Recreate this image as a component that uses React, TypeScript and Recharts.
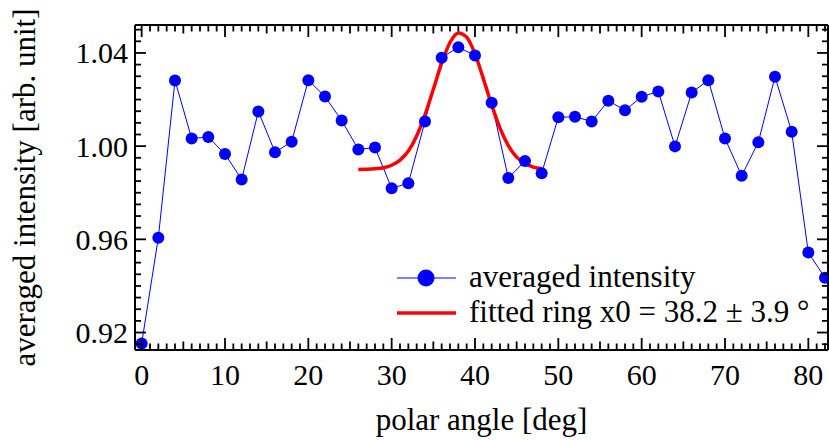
// polar-angle intensity profile with a fitted ring
import { Legend, Line, LineChart, XAxis, YAxis } from "recharts";

// measured points, every 2 deg
const angles = [
  0, 2, 4, 6, 8, 10, 12, 14, 16, 18, 20, 22, 24, 26, 28, 30, 32, 34, 36, 38, 40,
  42, 44, 46, 48, 50, 52, 54, 56, 58, 60, 62, 64, 66, 68, 70, 72, 74, 76, 78, 80, 82,
];
const intensity = [
  0.9153, 0.9607, 1.0282, 1.0033, 1.0039, 0.9966, 0.9857, 1.0149, 0.9974, 1.0019,
  1.0283, 1.0213, 1.011, 0.9986, 0.9994, 0.9819, 0.9841, 1.0106, 1.0379, 1.0425,
  1.0389, 1.0186, 0.9863, 0.9936, 0.9884, 1.0124, 1.0126, 1.0106, 1.0195, 1.0154,
  1.0212, 1.0235, 0.9999, 1.023, 1.0283, 1.0033, 0.9873, 1.0017, 1.0298, 1.0062,
  0.9543, 0.9435,
];

// fitted ring curve
const fitAngles = [
  26, 27, 28, 29, 30, 31, 32, 33, 34, 35, 36, 37, 38, 39, 40, 41, 42, 43, 44, 45, 46, 47, 48,
];
const fitValues = [
  0.99, 0.9901, 0.9903, 0.9907, 0.9918, 0.994, 0.9979, 1.0044, 1.0134, 1.0244, 1.0356,
  1.0445, 1.0486, 1.0468, 1.0396, 1.029, 1.0177, 1.0077, 1.0002, 0.9953, 0.9925, 0.991, 0.9904,
];

const measured = angles.map((angle, i) => ({ angle, value: intensity[i] }));
const fitted = fitAngles.map((angle, i) => ({ angle, value: fitValues[i] }));

const xTicks = Array.from({ length: 83 }, (_, i) => i);
const yTicks = Array.from({ length: 28 }, (_, i) => +(0.915 + i * 0.005).toFixed(3));
const xDomain = [-0.8, 82.36];
const yDomain = [0.9125, 1.052];

const FONT = "Liberation Serif";
const TICK_W = 1.8;

const xLen = (v: number) => (v % 10 === 0 ? 12 : v % 5 === 0 ? 8.5 : 6.5);
const yMajor = (v: number) => Math.round(v * 1000) % 40 === 0;

const BottomTick = ({ x, y, payload }: any) => {
  const v = payload.value;
  return (
    <g>
      <line x1={x} x2={x} y1={y} y2={y - xLen(v)} stroke="#000" strokeWidth={TICK_W} />
      {v % 10 === 0 && (
        <text x={x} y={y + 35} textAnchor="middle" fontSize={30} fontFamily={FONT} fill="#000">
          {v}
        </text>
      )}
    </g>
  );
};

const TopTick = ({ x, y, payload }: any) => (
  <line x1={x} x2={x} y1={y} y2={y + xLen(payload.value)} stroke="#000" strokeWidth={TICK_W} />
);

const LeftTick = ({ x, y, payload }: any) => {
  const v = payload.value;
  const major = yMajor(v);
  return (
    <g>
      <line x1={x} x2={x + (major ? 11 : 6)} y1={y} y2={y} stroke="#000" strokeWidth={TICK_W} />
      {major && (
        <text x={x - 7} y={y + 10.5} textAnchor="end" fontSize={30} fontFamily={FONT} fill="#000">
          {v.toFixed(2)}
        </text>
      )}
    </g>
  );
};

const RightTick = ({ x, y, payload }: any) => (
  <line
    x1={x}
    x2={x - (yMajor(payload.value) ? 11 : 6)}
    y1={y}
    y2={y}
    stroke="#000"
    strokeWidth={TICK_W}
  />
);

const XLabel = ({ viewBox }: any) => (
  <text
    x={viewBox.x + viewBox.width / 2}
    y={viewBox.y + 80}
    textAnchor="middle"
    fontSize={31}
    fontFamily={FONT}
    fill="#000"
  >
    polar angle [deg]
  </text>
);

const YLabel = ({ viewBox }: any) => (
  <text
    transform={`translate(${viewBox.x + 34.5},${viewBox.y + viewBox.height / 2}) rotate(-90)`}
    textAnchor="middle"
    fontSize={31}
    fontFamily={FONT}
    fill="#000"
  >
    averaged intensity [arb. unit]
  </text>
);

const LegendBox = ({ payload }: any) => (
  <svg width={430} height={80}>
    {(payload || []).map((entry: any, i: number) => {
      const cy = 28 + i * 35;
      return (
        <g key={entry.value}>
          <line
            x1={7}
            x2={66}
            y1={cy}
            y2={cy}
            stroke={entry.color}
            strokeWidth={i === 0 ? 1 : 3.6}
          />
          {i === 0 && <circle cx={36} cy={cy} r={8.5} fill={entry.color} />}
          <text x={79} y={cy + 8.5} fontSize={31} fontFamily={FONT} fill="#000">
            {entry.value}
          </text>
        </g>
      );
    })}
  </svg>
);

export default function App() {
  return (
    <div
      style={{
        position: "absolute",
        left: 0,
        top: 0,
        width: 829,
        height: 440,
        overflow: "hidden",
      }}
    >
      <LineChart
        width={858}
        height={440}
        data={measured}
        margin={{ top: 0, right: 0, bottom: 0, left: 0 }}
      >
        <XAxis
          xAxisId="b"
          type="number"
          dataKey="angle"
          domain={xDomain}
          allowDataOverflow
          ticks={xTicks}
          interval={0}
          tick={BottomTick}
          tickLine={false}
          tickSize={0}
          tickMargin={0}
          height={90}
          axisLine={{ stroke: "#000", strokeWidth: 2 }}
          label={XLabel}
        />
        <XAxis
          xAxisId="t"
          orientation="top"
          type="number"
          dataKey="angle"
          domain={xDomain}
          allowDataOverflow
          ticks={xTicks}
          interval={0}
          tick={TopTick}
          tickLine={false}
          tickSize={0}
          tickMargin={0}
          height={25}
          axisLine={{ stroke: "#000", strokeWidth: 2 }}
        />
        <YAxis
          yAxisId="l"
          type="number"
          domain={yDomain}
          allowDataOverflow
          ticks={yTicks}
          interval={0}
          tick={LeftTick}
          tickLine={false}
          tickSize={0}
          tickMargin={0}
          width={135}
          axisLine={{ stroke: "#000", strokeWidth: 2 }}
          label={YLabel}
        />
        <YAxis
          yAxisId="r"
          orientation="right"
          type="number"
          domain={yDomain}
          allowDataOverflow
          ticks={yTicks}
          interval={0}
          tick={RightTick}
          tickLine={false}
          tickSize={0}
          tickMargin={0}
          width={30}
          axisLine={{ stroke: "#000", strokeWidth: 2 }}
        />
        {/* top/right axes share the same domain and pixel range as bottom/left */}
        <Line
          xAxisId="t"
          yAxisId="r"
          dataKey="value"
          name="averaged intensity"
          type="linear"
          stroke="#0000ff"
          strokeWidth={1}
          dot={{ r: 6, fill: "#0000ff", stroke: "none" }}
          activeDot={false}
          isAnimationActive={false}
        />
        <Line
          xAxisId="b"
          yAxisId="l"
          data={fitted}
          dataKey="value"
          name="fitted ring x0 = 38.2 ± 3.9 °"
          type="monotone"
          stroke="#ff0000"
          strokeWidth={3.5}
          dot={false}
          activeDot={false}
          isAnimationActive={false}
        />
        <Legend
          layout="horizontal"
          verticalAlign="middle"
          align="center"
          content={LegendBox}
          wrapperStyle={{ left: 390, top: 250, width: 430, height: 80 }}
        />
      </LineChart>
    </div>
  );
}
